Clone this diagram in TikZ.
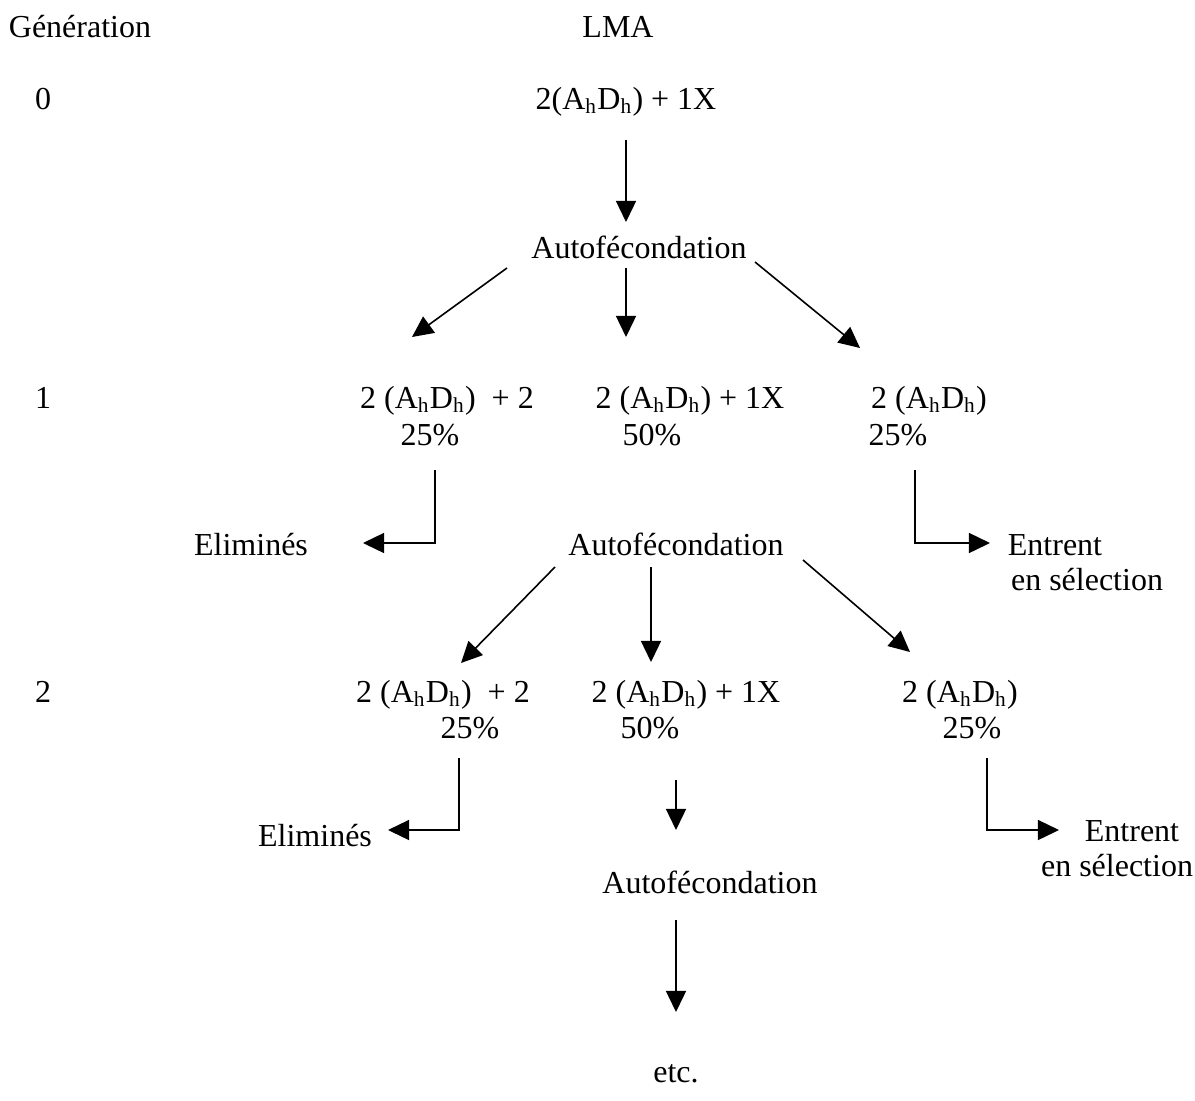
\documentclass[tikz,border=0pt]{standalone}
\usepackage{fontspec}
\setmainfont{Liberation Serif}
\usetikzlibrary{arrows.meta}
\newcommand{\AD}{(A\textsubscript{h}D\textsubscript{h})}
\begin{document}
\begin{tikzpicture}[x=0.375pt,y=-0.375pt,
  lbl/.style={anchor=base,inner sep=0pt,font=\fontsize{12}{14}\selectfont},
  arr/.style={-{Triangle[length=7.9pt,width=7.5pt]},line width=0.6pt}]
\useasboundingbox (0,0) rectangle (1195,1100);
% labels
\node[lbl] (gen) at (80,37) {Génération};
\node[lbl] (lma) at (618,37) {LMA};
\node[lbl] (g0) at (43,109) {0};
\node[lbl] (g1) at (43,408) {1};
\node[lbl] (g2) at (43,702) {2};
\node[lbl] (p0) at (626,109) {2\AD{} + 1X};
\node[lbl] (af1) at (639,258) {Autofécondation};
% generation 1
\node[lbl] (r1a) at (447,408) {2 \AD\ \ + 2};
\node[lbl] (q1a) at (430,445) {25\%};
\node[lbl] (r1b) at (690,408) {2 \AD{} + 1X};
\node[lbl] (q1b) at (652,445) {50\%};
\node[lbl] (r1c) at (929,408) {2 \AD};
\node[lbl] (q1c) at (898,445) {25\%};
\node[lbl] (el1) at (251,555) {Eliminés};
\node[lbl] (af2) at (676,555) {Autofécondation};
\node[lbl] (en1) at (1055,555) {Entrent};
\node[lbl] (se1) at (1087,590) {en sélection};
% generation 2
\node[lbl] (r2a) at (443,702) {2 \AD\ \ + 2};
\node[lbl] (q2a) at (470,738) {25\%};
\node[lbl] (r2b) at (686,702) {2 \AD{} + 1X};
\node[lbl] (q2b) at (650,738) {50\%};
\node[lbl] (r2c) at (960,702) {2 \AD};
\node[lbl] (q2c) at (972,738) {25\%};
\node[lbl] (el2) at (315,846) {Eliminés};
\node[lbl] (af3) at (710,893) {Autofécondation};
\node[lbl] (en2) at (1132,841) {Entrent};
\node[lbl] (se2) at (1117,876) {en sélection};
\node[lbl] (etc) at (676,1082) {etc.};
% connector end points
\coordinate (c0s) at (626,140);  \coordinate (c0e) at (626,222);
\coordinate (c1ls) at (507,268); \coordinate (c1le) at (412,337);
\coordinate (c1ms) at (626,268); \coordinate (c1me) at (626,337);
\coordinate (c1rs) at (755,262); \coordinate (c1re) at (860,348);
\coordinate (e1ls) at (435,470); \coordinate (e1le) at (363,543);
\coordinate (e1rs) at (915,470); \coordinate (e1re) at (990,543);
\coordinate (c2ls) at (555,567); \coordinate (c2le) at (461,663);
\coordinate (c2ms) at (651,567); \coordinate (c2me) at (651,662);
\coordinate (c2rs) at (803,560); \coordinate (c2re) at (910,652);
\coordinate (e2ls) at (459,758); \coordinate (e2le) at (388,830);
\coordinate (e2rs) at (987,758); \coordinate (e2re) at (1059,830);
\coordinate (c3s) at (676,780);  \coordinate (c3e) at (676,830);
\coordinate (c4s) at (676,920);  \coordinate (c4e) at (676,1012);
% connectors
\draw[arr] (c0s) -- (c0e);
\draw[arr] (c1ls) -- (c1le);
\draw[arr] (c1ms) -- (c1me);
\draw[arr] (c1rs) -- (c1re);
\draw[arr] (e1ls) |- (e1le);
\draw[arr] (e1rs) |- (e1re);
\draw[arr] (c2ls) -- (c2le);
\draw[arr] (c2ms) -- (c2me);
\draw[arr] (c2rs) -- (c2re);
\draw[arr] (e2ls) |- (e2le);
\draw[arr] (e2rs) |- (e2re);
\draw[arr] (c3s) -- (c3e);
\draw[arr] (c4s) -- (c4e);
\end{tikzpicture}
\end{document}
